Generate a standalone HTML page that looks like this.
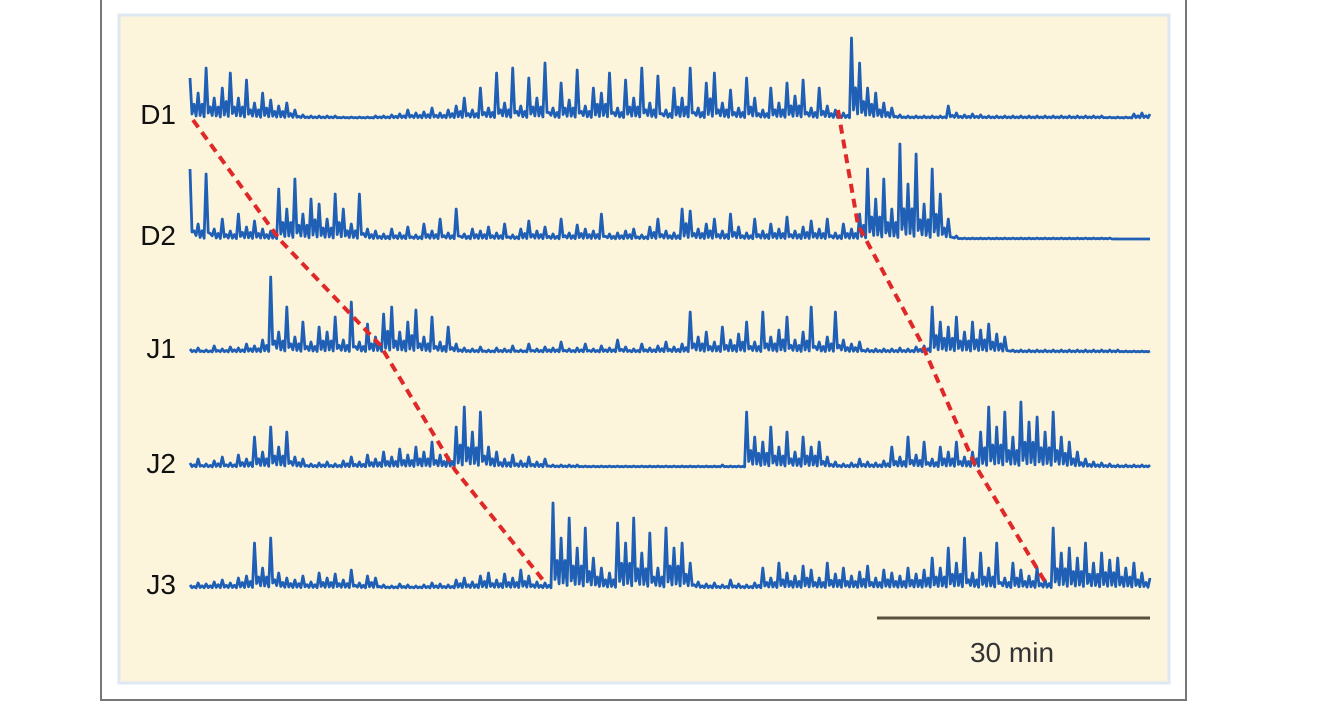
<!DOCTYPE html>
<html><head><meta charset="utf-8"><style>
html,body{margin:0;padding:0;background:#fff;width:1334px;height:709px;overflow:hidden}
svg{display:block}
text{font-family:"Liberation Sans",sans-serif}
</style></head><body>
<svg id="chart" width="1334" height="709">
<rect x="101" y="-2" width="1085" height="702" fill="#fff" stroke="#777" stroke-width="2"/>
<rect x="119" y="15" width="1050" height="668" fill="#fcf5dc" stroke="#dfe8f2" stroke-width="3"/>
<g id="traces"></g>
<g id="dashes"></g>
<line x1="877" y1="618" x2="1150" y2="618" stroke="#5a5040" stroke-width="3"/>
<text x="1012" y="662" font-size="28" fill="#333" text-anchor="middle">30 min</text>
</svg>
<script>
const labels=["D1","D2","J1","J2","J3"];
const baselines=[118,239,352,467,588];
const d1=[40,25,50,20,30,45,20,38,15,25,18,12,15,8,3,2,2,2,2,1,1,1,1,2,2,3,4,8,5,6,10,5,8,12,20,8,30,10,45,15,50,12,40,20,55,10,35,18,48,12,30,25,45,10,38,20,50,15,42,8,30,20,50,10,35,45,15,28,10,40,20,8,30,15,35,22,38,10,30,12,8,5,80,55,30,25,15,10,3,2,2,2,2,2,12,5,3,4,3,2,2,2,2,2,2,2,2,2,2,2,2,2,2,2,1,1,1,4,5,4];
const d2=[70,15,65,10,20,8,25,12,18,10,8,50,30,60,25,40,35,20,45,30,15,45,10,8,5,10,6,12,4,15,8,20,6,30,5,10,8,12,6,15,4,10,18,8,12,5,20,6,14,10,8,25,5,6,8,10,4,12,20,8,6,30,28,10,15,20,8,25,12,6,20,8,15,10,22,8,12,18,10,20,6,15,10,25,70,40,60,30,95,55,85,35,70,45,20,3,1,1,1,1,1,1,1,1,1,1,1,1,1,1,1,1,1,1,1,0,0,0,0,0];
const j1=[3,4,2,6,3,5,4,8,6,12,75,20,45,15,30,10,25,20,35,12,50,10,28,15,38,45,20,30,42,15,35,10,25,8,4,3,5,2,4,3,6,2,8,3,5,4,10,3,4,8,3,6,4,12,5,3,8,4,6,10,5,8,40,15,20,10,25,12,18,30,10,40,15,22,35,12,20,45,10,15,40,12,8,10,3,3,3,3,4,3,5,6,45,30,25,35,20,30,22,28,18,15,2,2,2,2,2,2,2,2,2,2,2,2,2,2,1,1,1,1];
const j2=[4,8,3,6,10,4,12,8,30,15,40,20,35,10,8,3,4,5,3,6,10,5,12,8,15,10,18,12,20,15,25,12,10,40,60,35,55,20,15,8,12,6,10,5,8,2,2,2,2,1,1,1,1,1,1,1,1,1,1,1,1,1,1,1,1,1,2,1,1,55,30,25,40,20,35,15,30,20,25,10,5,3,4,8,5,4,6,20,10,30,12,25,8,20,15,25,10,15,35,60,40,55,30,65,45,50,35,55,30,25,15,8,5,4,3,2,2,2,2,2];
const j3=[3,5,4,6,8,5,10,12,45,20,50,15,10,8,12,6,15,10,14,8,18,5,12,10,3,2,4,3,2,3,5,4,3,8,10,6,12,15,8,14,10,18,12,6,5,85,50,70,40,60,30,20,15,65,45,70,35,55,20,60,40,45,25,6,4,5,3,8,4,3,5,20,10,25,15,12,22,18,10,25,14,20,12,16,22,10,18,15,12,20,14,18,30,20,40,25,50,15,35,20,45,10,25,18,12,20,8,60,35,40,30,45,25,35,28,30,20,25,15,10];
const series=[d1,d2,j1,j2,j3];
const wave1=[[193,120],[280,240],[380,345],[455,470],[543,580]];
const wave2=[[838,110],[858,225],[920,340],[975,465],[1047,585]];
const NS="http://www.w3.org/2000/svg";
const x0=190,x1=1150;
const sub=[1,0.1,0.55,0.05];
function xs(i,n){return x0+i*(x1-x0)/(n-1);}
const tg=document.getElementById('traces');
series.forEach((s,k)=>{
 const b=baselines[k];let pts=[];
 const step=(x1-x0)/(s.length-1);
 s.forEach((v,i)=>{const x=xs(i,s.length);
  const nv=i<s.length-1?s[i+1]:v;
  sub.forEach((f,j)=>{ if(i==s.length-1&&j>0)return;
   const amp=j==2?Math.min(v,nv)*f:v*f;
   pts.push((x+step*j/sub.length).toFixed(1)+","+(b-amp).toFixed(1));});});
 const p=document.createElementNS(NS,'polyline');
 p.setAttribute('points',pts.join(' '));
 p.setAttribute('fill','none');p.setAttribute('stroke','#1f5fb5');p.setAttribute('stroke-width','2.8');p.setAttribute('stroke-linejoin','round');
 
 
 tg.appendChild(p);
 const t=document.createElementNS(NS,'text');
 t.setAttribute('x','176');t.setAttribute('y',b+6);t.setAttribute('font-size','28');t.setAttribute('fill','#111');t.setAttribute('text-anchor','end');
 t.textContent=labels[k];
 
 
 tg.appendChild(t);
});
const dg=document.getElementById('dashes');
[wave1,wave2].forEach((w,k)=>{
 const p=document.createElementNS(NS,'polyline');
 p.setAttribute('points',w.map(q=>q.join(',')).join(' '));
 p.setAttribute('fill','none');p.setAttribute('stroke','#e02828');p.setAttribute('stroke-width','4');p.setAttribute('stroke-dasharray','9 6');
 
 
 dg.appendChild(p);
});
</script>
</body></html>
